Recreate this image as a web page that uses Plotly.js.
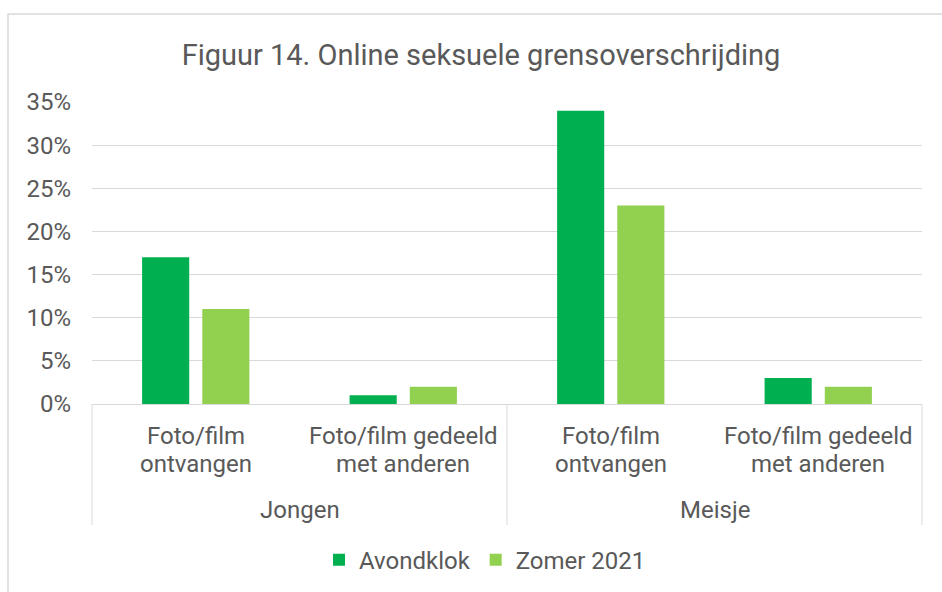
<!DOCTYPE html>
<html>
<head>
<meta charset="utf-8">
<script src="https://cdn.plot.ly/plotly-3.0.1.min.js"></script>
<style>
html,body{margin:0;padding:0;background:#fff;}
#chart{width:942px;height:592px;}
</style>
</head>
<body>
<div id="chart"></div>
<script>
const groups = ["Jongen", "Jongen", "Meisje", "Meisje"];
const itemLine1 = ["Foto/film", "Foto/film gedeeld", "Foto/film", "Foto/film gedeeld"];
const itemLine2 = ["ontvangen", "met anderen", "ontvangen", "met anderen"];
const items = itemLine1.map((t, i) => t + " " + itemLine2[i]);
const groupNames = ["Jongen", "Meisje"];
const avondklok = [17, 1, 34, 3];
const zomer2021 = [11, 2, 23, 2];
const tickVals = [0, 5, 10, 15, 20, 25, 30, 35];
const tickText = ["0%", "5%", "10%", "15%", "20%", "25%", "30%", "35%"];

const font = {family: "Roboto, sans-serif", color: "#595959"};
const f24 = Object.assign({size: 24}, font);

const data = [
  {type: "bar", name: "Avondklok", x: [groups, items], y: avondklok, marker: {color: "#00B050"}},
  {type: "bar", name: "Zomer 2021", x: [groups, items], y: zomer2021, marker: {color: "#92D050"}}
];

// category label annotations (positions in paper space, one per category slot)
const nCat = items.length;
const annotations = [];
const pyToPaper = py => (404 - py) / 302;
itemLine1.forEach((t, i) => {
  const xc = (i + 0.5) / nCat;
  annotations.push({xref: "paper", yref: "paper", x: xc, y: pyToPaper(436), text: t, showarrow: false, xanchor: "center", yanchor: "middle", font: f24});
  annotations.push({xref: "paper", yref: "paper", x: xc, y: pyToPaper(464), text: itemLine2[i], showarrow: false, xanchor: "center", yanchor: "middle", font: f24});
});
groupNames.forEach((g, j) => {
  annotations.push({xref: "paper", yref: "paper", x: (j + 0.5) / groupNames.length, y: pyToPaper(510), text: g, showarrow: false, xanchor: "center", yanchor: "middle", font: f24});
});

const shapes = [
  {type: "rect", xref: "paper", yref: "paper", x0: -0.1012, x1: 1.03, y0: -0.64, y1: 1.2914, line: {color: "#d9d9d9", width: 1.5}, fillcolor: "rgba(0,0,0,0)", layer: "below"}
];
[0, 0.5, 1].forEach(x => {
  shapes.push({type: "line", xref: "paper", yref: "paper", x0: x, x1: x, y0: 0, y1: pyToPaper(525), line: {color: "#d9d9d9", width: 1}});
});

const layout = {
  width: 942, height: 592,
  margin: {l: 92, r: 20, t: 102, b: 188, autoexpand: false},
  paper_bgcolor: "#fff", plot_bgcolor: "#fff",
  font: f24,
  title: {text: "Figuur 14. Online seksuele grensoverschrijding", font: Object.assign({size: 29}, font), xref: "paper", x: 0.4687, xanchor: "center", y: 0.908, yanchor: "middle"},
  barmode: "group",
  bargap: 0.42,
  bargroupgap: 0.217,
  showlegend: true,
  legend: {orientation: "h", x: 0.4735, xanchor: "center", y: -0.517, yanchor: "middle", font: f24, itemwidth: 30, traceorder: "normal"},
  xaxis: {
    type: "multicategory",
    showline: true, linecolor: "#d9d9d9", linewidth: 1,
    showdividers: false, showticklabels: false,
    ticks: "", showgrid: false
  },
  yaxis: {
    range: [0, 35], tickvals: tickVals, ticktext: tickText,
    showgrid: true, gridcolor: "#d9d9d9", gridwidth: 1,
    zeroline: false, showline: false, ticks: "",
    tickfont: f24, ticklabelstandoff: 20
  },
  annotations: annotations,
  shapes: shapes
};

Plotly.newPlot("chart", data, layout, {displayModeBar: false, staticPlot: true});
</script>
</body>
</html>
